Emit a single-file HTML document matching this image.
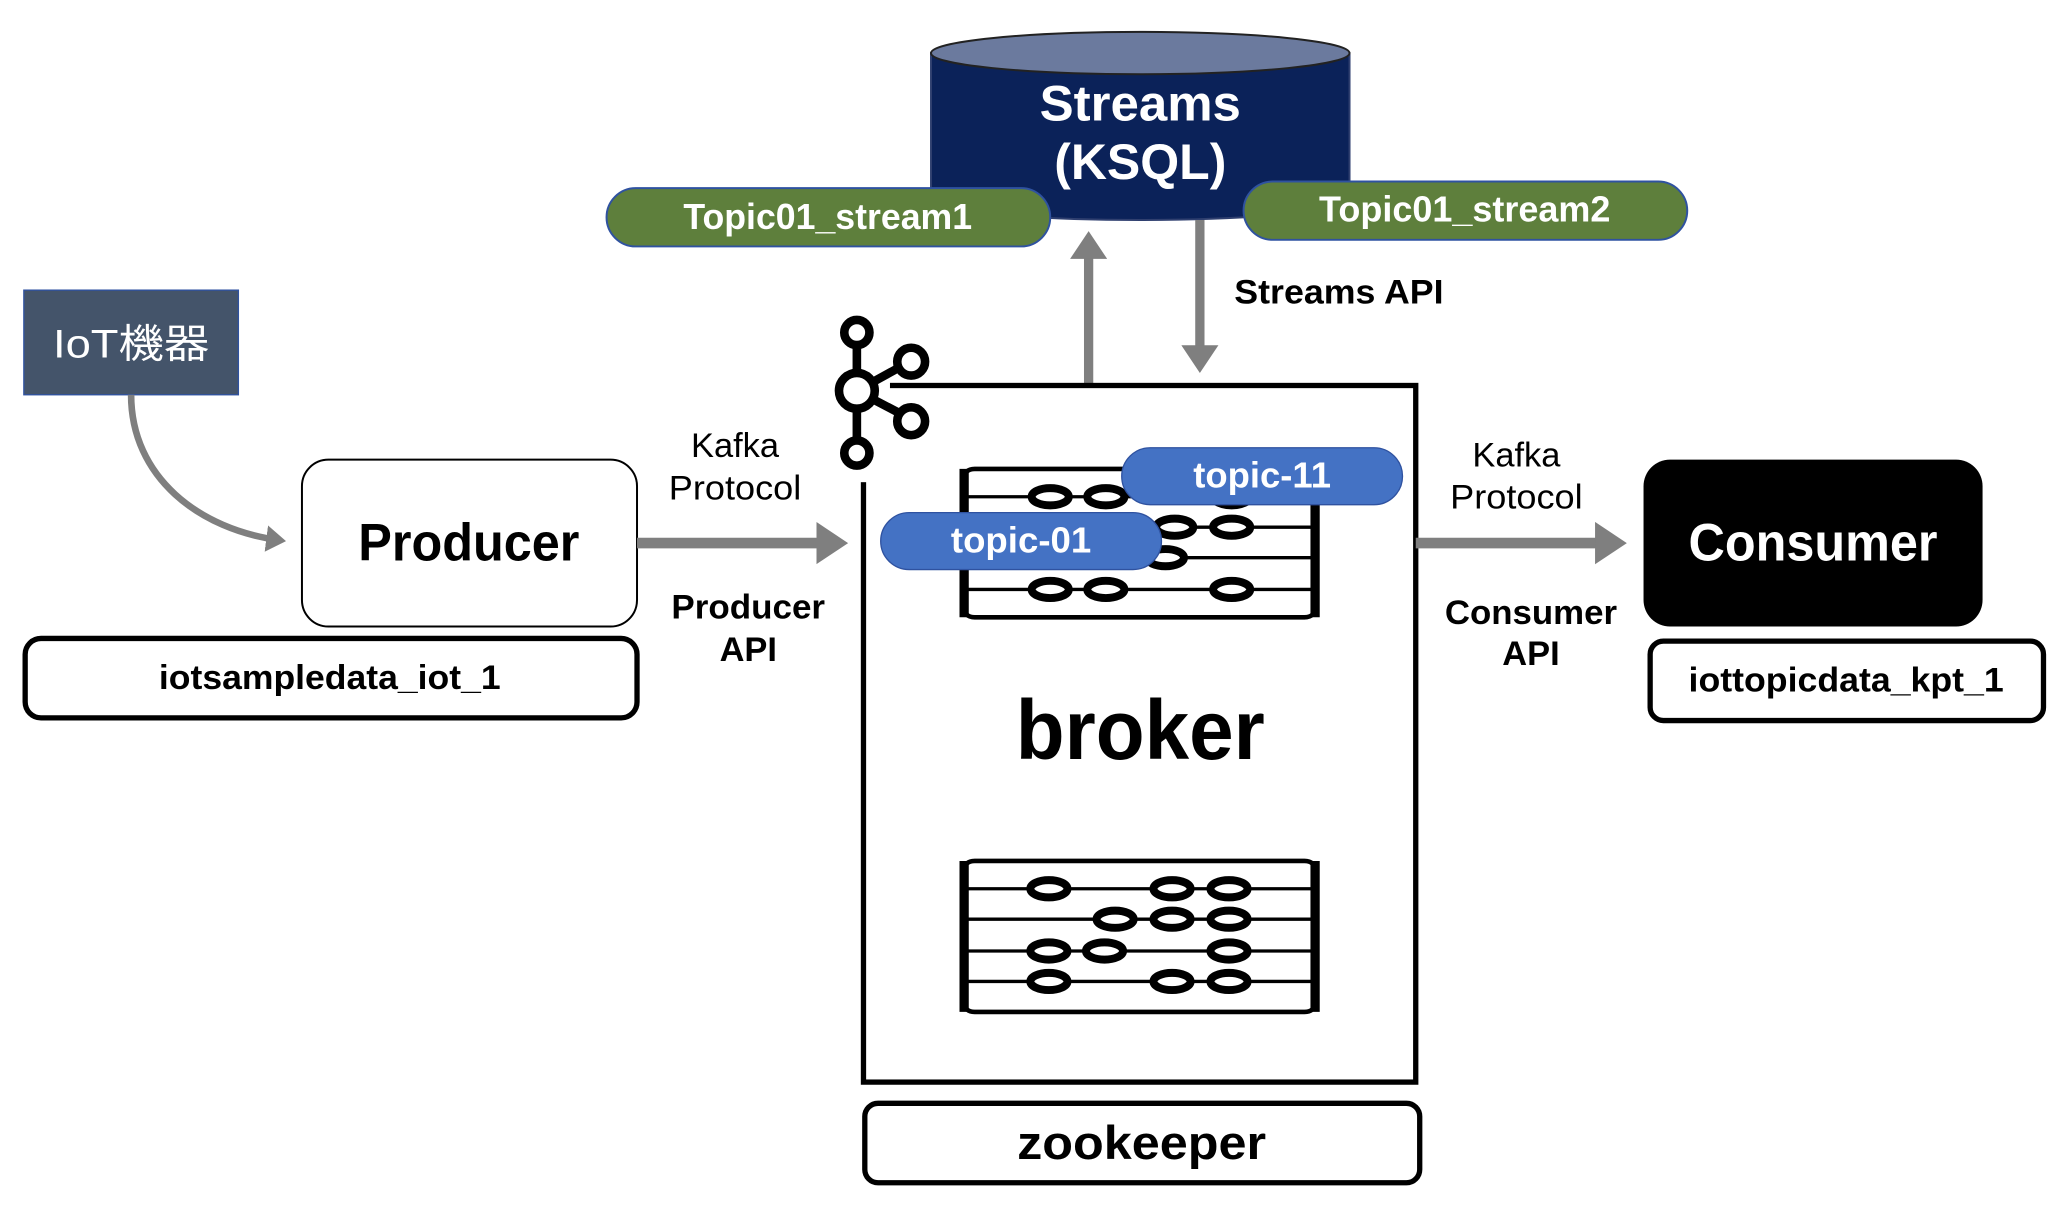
<!DOCTYPE html>
<html><head><meta charset="utf-8"><style>
html,body{margin:0;padding:0;background:#fff;}
svg{display:block;}
text{font-family:"Liberation Sans","Noto Sans CJK JP",sans-serif;}
</style></head><body>
<svg width="2066" height="1212" viewBox="0 0 1560 915" xmlns="http://www.w3.org/2000/svg">
<defs>
<marker id="ah" markerWidth="4" markerHeight="4" refX="2.2" refY="2" orient="auto" markerUnits="strokeWidth">
<path d="M0,0 L3,2 L0,4 Z" fill="#7f7f7f"/></marker>
</defs>
<!-- cylinder -->
<path d="M703,40 L703,150 A158,16 0 0 0 1019,150 L1019,40 Z" fill="#0b2259" stroke="#2f3f6f" stroke-width="1.5"/>
<ellipse cx="861" cy="40" rx="158" ry="16" fill="#6b7a9e" stroke="#222" stroke-width="1.5"/>
<text x="861" y="91" font-size="38" font-weight="bold" fill="#fff" text-anchor="middle" textLength="152" lengthAdjust="spacingAndGlyphs">Streams</text>
<text x="861" y="135" font-size="38" font-weight="bold" fill="#fff" text-anchor="middle" textLength="130" lengthAdjust="spacingAndGlyphs">(KSQL)</text>
<!-- stream pills -->
<rect x="458" y="142" width="335" height="44" rx="22" fill="#5e7f3c" stroke="#2f52a0" stroke-width="1.5"/>
<text x="625" y="173" font-size="27" font-weight="bold" fill="#fff" text-anchor="middle" textLength="218" lengthAdjust="spacingAndGlyphs">Topic01_stream1</text>
<rect x="939" y="137" width="335" height="44" rx="22" fill="#5e7f3c" stroke="#2f52a0" stroke-width="1.5"/>
<text x="1106" y="167" font-size="27" font-weight="bold" fill="#fff" text-anchor="middle" textLength="220" lengthAdjust="spacingAndGlyphs">Topic01_stream2</text>
<!-- up/down arrows -->
<line x1="822" y1="290" x2="822" y2="180" stroke="#7f7f7f" stroke-width="7" marker-end="url(#ah)"/>
<line x1="906" y1="166" x2="906" y2="276" stroke="#7f7f7f" stroke-width="7" marker-end="url(#ah)"/>
<text x="1011" y="229" font-size="26" font-weight="bold" text-anchor="middle" textLength="158" lengthAdjust="spacingAndGlyphs">Streams API</text>
<!-- IoT -->
<rect x="18" y="219" width="162" height="79" fill="#44546a" stroke="#2f52a0" stroke-width="1"/>
<text x="99" y="270" font-size="30" fill="#fff" text-anchor="middle" textLength="118" lengthAdjust="spacingAndGlyphs">IoT機器</text>
<path d="M99,298 C99,360 150,400 212,408" fill="none" stroke="#7f7f7f" stroke-width="5" marker-end="url(#ah)"/>
<!-- producer -->
<rect x="228" y="347" width="253" height="126" rx="20" fill="#fff" stroke="#000" stroke-width="1.5"/>
<text x="354" y="423" font-size="40" font-weight="bold" text-anchor="middle" textLength="167" lengthAdjust="spacingAndGlyphs">Producer</text>
<rect x="19" y="482" width="462" height="60" rx="12" fill="#fff" stroke="#000" stroke-width="4"/>
<text x="249" y="520" font-size="26" font-weight="bold" text-anchor="middle" textLength="258" lengthAdjust="spacingAndGlyphs">iotsampledata_iot_1</text>
<line x1="481" y1="410" x2="634" y2="410" stroke="#7f7f7f" stroke-width="8" marker-end="url(#ah)"/>
<text x="555" y="345" font-size="26" text-anchor="middle">Kafka</text>
<text x="555" y="377" font-size="26" text-anchor="middle" textLength="100" lengthAdjust="spacingAndGlyphs">Protocol</text>
<text x="565" y="467" font-size="26" font-weight="bold" text-anchor="middle" textLength="116" lengthAdjust="spacingAndGlyphs">Producer</text>
<text x="565" y="499" font-size="26" font-weight="bold" text-anchor="middle">API</text>
<!-- broker -->
<rect x="652" y="291" width="417" height="526" fill="#fff" stroke="#000" stroke-width="4"/>
<!-- kafka logo -->
<rect x="628" y="236" width="44" height="128" fill="#fff"/>
<g stroke="#000" stroke-width="6.5" fill="#fff">
<line x1="647" y1="250" x2="647" y2="340"/>
<line x1="647" y1="295" x2="687" y2="273"/>
<line x1="647" y1="295" x2="687" y2="316"/>
<circle cx="647" cy="251" r="9.5"/>
<circle cx="647" cy="342" r="9.5"/>
<circle cx="647" cy="295" r="13.5"/>
<circle cx="688" cy="273" r="10.5"/>
<circle cx="688" cy="318" r="10.5"/>
</g>
<!-- top rack -->
<g stroke="#000" fill="none">
<path d="M736,354 Q728,354 728,362 L728,458 Q728,466 736,466 L985,466 Q993,466 993,458 L993,362 Q993,354 985,354 Z" stroke-width="3.5"/>
<line x1="728" y1="354" x2="728" y2="466" stroke-width="7"/>
<line x1="993" y1="354" x2="993" y2="466" stroke-width="7"/>
<g stroke-width="2.5"><line x1="730" y1="375" x2="990" y2="375"/><line x1="730" y1="398" x2="990" y2="398"/><line x1="730" y1="421" x2="990" y2="421"/><line x1="730" y1="445" x2="990" y2="445"/></g>
<g stroke-width="6" fill="#fff">
<ellipse cx="793" cy="375" rx="14" ry="6.5"/><ellipse cx="835" cy="375" rx="14" ry="6.5"/><ellipse cx="930" cy="375" rx="14" ry="6.5"/>
<ellipse cx="887" cy="398" rx="14" ry="6.5"/><ellipse cx="930" cy="398" rx="14" ry="6.5"/>
<ellipse cx="880" cy="421" rx="14" ry="6.5"/>
<ellipse cx="793" cy="445" rx="14" ry="6.5"/><ellipse cx="835" cy="445" rx="14" ry="6.5"/><ellipse cx="930" cy="445" rx="14" ry="6.5"/>
</g>
</g>
<rect x="847" y="338" width="212" height="43" rx="21.5" fill="#4472c4" stroke="#2f52a0" stroke-width="1"/>
<text x="953" y="368" font-size="27" font-weight="bold" fill="#fff" text-anchor="middle" textLength="104" lengthAdjust="spacingAndGlyphs">topic-11</text>
<rect x="665" y="387" width="212" height="43" rx="21.5" fill="#4472c4" stroke="#2f52a0" stroke-width="1"/>
<text x="771" y="417" font-size="27" font-weight="bold" fill="#fff" text-anchor="middle" textLength="106" lengthAdjust="spacingAndGlyphs">topic-01</text>
<text x="861" y="573" font-size="64" font-weight="bold" text-anchor="middle" textLength="188" lengthAdjust="spacingAndGlyphs">broker</text>
<!-- bottom rack -->
<g stroke="#000" fill="none">
<path d="M736,650 Q728,650 728,658 L728,756 Q728,764 736,764 L985,764 Q993,764 993,756 L993,658 Q993,650 985,650 Z" stroke-width="3.5"/>
<line x1="728" y1="650" x2="728" y2="764" stroke-width="7"/>
<line x1="993" y1="650" x2="993" y2="764" stroke-width="7"/>
<g stroke-width="2.5"><line x1="730" y1="671" x2="990" y2="671"/><line x1="730" y1="694" x2="990" y2="694"/><line x1="730" y1="718" x2="990" y2="718"/><line x1="730" y1="741" x2="990" y2="741"/></g>
<g stroke-width="6" fill="#fff">
<ellipse cx="792" cy="671" rx="14" ry="6.5"/><ellipse cx="885" cy="671" rx="14" ry="6.5"/><ellipse cx="928" cy="671" rx="14" ry="6.5"/>
<ellipse cx="842" cy="694" rx="14" ry="6.5"/><ellipse cx="885" cy="694" rx="14" ry="6.5"/><ellipse cx="928" cy="694" rx="14" ry="6.5"/>
<ellipse cx="792" cy="718" rx="14" ry="6.5"/><ellipse cx="834" cy="718" rx="14" ry="6.5"/><ellipse cx="928" cy="718" rx="14" ry="6.5"/>
<ellipse cx="792" cy="741" rx="14" ry="6.5"/><ellipse cx="885" cy="741" rx="14" ry="6.5"/><ellipse cx="928" cy="741" rx="14" ry="6.5"/>
</g>
</g>
<!-- zookeeper -->
<rect x="653" y="833" width="419" height="60" rx="10" fill="#fff" stroke="#000" stroke-width="4"/>
<text x="862" y="875" font-size="36" font-weight="bold" text-anchor="middle" textLength="188" lengthAdjust="spacingAndGlyphs">zookeeper</text>
<!-- consumer side -->
<line x1="1069" y1="410" x2="1222" y2="410" stroke="#7f7f7f" stroke-width="8" marker-end="url(#ah)"/>
<text x="1145" y="352" font-size="26" text-anchor="middle">Kafka</text>
<text x="1145" y="384" font-size="26" text-anchor="middle" textLength="100" lengthAdjust="spacingAndGlyphs">Protocol</text>
<text x="1156" y="471" font-size="26" font-weight="bold" text-anchor="middle" textLength="130" lengthAdjust="spacingAndGlyphs">Consumer</text>
<text x="1156" y="502" font-size="26" font-weight="bold" text-anchor="middle">API</text>
<rect x="1241" y="347" width="256" height="126" rx="20" fill="#000"/>
<text x="1369" y="423" font-size="40" font-weight="bold" fill="#fff" text-anchor="middle" textLength="188" lengthAdjust="spacingAndGlyphs">Consumer</text>
<rect x="1246" y="484" width="297" height="60" rx="10" fill="#fff" stroke="#000" stroke-width="4"/>
<text x="1394" y="522" font-size="26" font-weight="bold" text-anchor="middle" textLength="238" lengthAdjust="spacingAndGlyphs">iottopicdata_kpt_1</text>
</svg>
</body></html>
